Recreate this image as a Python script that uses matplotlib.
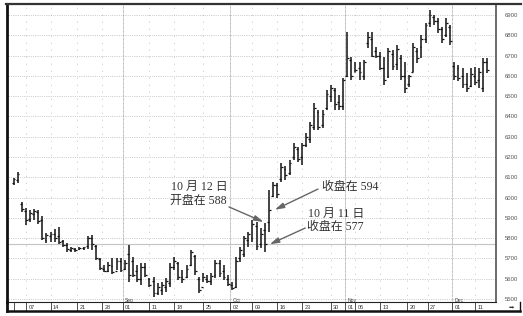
import matplotlib
matplotlib.use("Agg")
import matplotlib.pyplot as plt
from matplotlib.lines import Line2D

W, H = 523, 316

# daily OHLC bars (early Aug .. mid Dec)
highs = [6097, 6126, 5978, 5949, 5939, 5944, 5939, 5910, 5826, 5831,
         5845, 5855, 5791, 5777, 5757, 5752, 5757, 5757, 5811, 5816,
         5767, 5702, 5668, 5683, 5702, 5702, 5702, 5692, 5767, 5707,
         5668, 5678, 5678, 5604, 5609, 5579, 5584, 5604, 5678, 5707,
         5683, 5643, 5668, 5742, 5717, 5609, 5628, 5618, 5628, 5692,
         5692, 5668, 5618, 5584, 5707, 5757, 5811, 5831, 5890, 5880,
         5850, 5875, 6037, 6077, 6072, 6170, 6156, 6185, 6269, 6249,
         6269, 6318, 6373, 6466, 6432, 6432, 6530, 6555, 6540, 6506,
         6589, 6816, 6693, 6668, 6668, 6678, 6816, 6816, 6742, 6718,
         6693, 6737, 6727, 6752, 6703, 6668, 6604, 6762, 6737, 6801,
         6861, 6925, 6900, 6885, 6841, 6885, 6851, 6668, 6654, 6639,
         6614, 6639, 6644, 6639, 6688, 6688]
lows = [6062, 6072, 5929, 5865, 5880, 5890, 5870, 5791, 5777, 5781,
        5781, 5772, 5757, 5732, 5732, 5732, 5742, 5742, 5747, 5742,
        5692, 5643, 5633, 5633, 5623, 5643, 5633, 5643, 5584, 5609,
        5584, 5569, 5609, 5559, 5510, 5520, 5520, 5535, 5559, 5643,
        5594, 5579, 5604, 5663, 5618, 5530, 5584, 5579, 5569, 5604,
        5609, 5594, 5564, 5545, 5554, 5683, 5707, 5757, 5781, 5742,
        5752, 5732, 5830, 6003, 5998, 6077, 6087, 6111, 6185, 6175,
        6161, 6249, 6269, 6333, 6333, 6343, 6432, 6471, 6432, 6432,
        6432, 6594, 6580, 6619, 6580, 6580, 6737, 6693, 6688, 6629,
        6555, 6589, 6629, 6629, 6580, 6516, 6545, 6619, 6663, 6688,
        6762, 6841, 6851, 6811, 6762, 6792, 6752, 6580, 6575, 6540,
        6520, 6545, 6555, 6540, 6520, 6614]
opens = [6070, 6085, 5970, 5935, 5895, 5920, 5930, 5890, 5790, 5810,
         5820, 5810, 5785, 5765, 5740, 5745, 5745, 5750, 5760, 5800,
         5760, 5695, 5650, 5640, 5665, 5640, 5690, 5650, 5720, 5690,
         5640, 5600, 5660, 5600, 5590, 5530, 5545, 5560, 5580, 5660,
         5680, 5610, 5610, 5670, 5710, 5600, 5560, 5600, 5590, 5620,
         5680, 5640, 5600, 5570, 5560, 5700, 5720, 5790, 5800, 5860,
         5770, 5840, 5880, 6010, 6060, 6090, 6140, 6120, 6200, 6240,
         6200, 6260, 6290, 6350, 6420, 6360, 6440, 6500, 6530, 6470,
         6450, 6600, 6680, 6620, 6640, 6600, 6760, 6780, 6720, 6700,
         6640, 6600, 6710, 6660, 6690, 6600, 6560, 6620, 6720, 6740,
         6780, 6860, 6890, 6870, 6830, 6800, 6840, 6650, 6640, 6600,
         6560, 6550, 6600, 6580, 6540, 6670]
closes = [6090, 6115, 5945, 5890, 5925, 5935, 5885, 5800, 5815, 5820,
          5800, 5780, 5765, 5745, 5750, 5740, 5752, 5755, 5800, 5770,
          5700, 5655, 5640, 5670, 5635, 5690, 5645, 5680, 5620, 5620,
          5600, 5660, 5620, 5570, 5530, 5560, 5570, 5590, 5660, 5690,
          5610, 5600, 5650, 5730, 5640, 5545, 5610, 5590, 5615, 5680,
          5630, 5610, 5575, 5555, 5690, 5740, 5800, 5820, 5870, 5760,
          5820, 5770, 5940, 6060, 6020, 6150, 6110, 6170, 6250, 6190,
          6260, 6300, 6360, 6440, 6350, 6410, 6510, 6540, 6460, 6450,
          6580, 6690, 6600, 6630, 6620, 6670, 6790, 6700, 6700, 6640,
          6580, 6720, 6650, 6730, 6600, 6540, 6600, 6740, 6690, 6780,
          6850, 6900, 6870, 6830, 6780, 6860, 6770, 6600, 6590, 6560,
          6540, 6610, 6570, 6620, 6670, 6630]

# date strip: tick positions (bar index) and labels
date_ticks = [0, 3, 9, 15.5, 21.5, 26.5, 33, 39, 46, 52.5, 58, 64, 70, 77,
              80.5, 83, 89, 95.5, 100.5, 106.5, 112]
date_labels = ["", "07", "14", "21", "28", "01", "11", "18", "25", "02", "09",
               "16", "23", "30", "01", "06", "13", "20", "27", "01", "11"]
month_ticks = [26.5, 52.5, 80.5, 106.5]
month_names = ["Sep", "Oct", "Nov", "Dec"]
price_ticks = [5500, 5600, 5700, 5800, 5900, 6000, 6100, 6200, 6300, 6400,
               6500, 6600, 6700, 6800, 6900]

OCT11, OCT12 = 61, 62

plt.rcParams["font.family"] = ["Liberation Sans", "DejaVu Sans"]
cjk = ["Liberation Serif", "Noto Sans CJK SC"]

x0px, step = 13.5, 4.12  # pixel of bar 0, pixels per bar
fig = plt.figure(figsize=(W / 100, H / 100), dpi=100)
ax = fig.add_axes([7 / W, 1 - 301.5 / H, 489 / W, 297.5 / H])
ax.set_xlim((7 - x0px) / step, (496 - x0px) / step)
ax.set_ylim(5488, 6954)

# grid
for p in price_ticks:
    ax.axhline(p, color="#9a9a9a", lw=0.6, ls=(0, (0.6, 1.6)), zorder=0)
for t in date_ticks[1:]:
    if t in month_ticks:
        ax.axvline(t, color="#8a8a8a", lw=0.6, ls=(0, (0.8, 0.8)), zorder=0)
    else:
        ax.axvline(t, color="#a8a8a8", lw=0.7, ls=(0, (0.7, 6.5)), zorder=0)
ax.axhline(closes[OCT11], color="#c4c4c4", lw=0.8, zorder=1)

# bars
x = list(range(len(highs)))
ax.vlines(x, lows, highs, color="#111111", lw=1.1, zorder=3)
ax.hlines(opens, [i - 0.45 for i in x], x, color="#111111", lw=0.9, zorder=3)
ax.hlines(closes, x, [i + 0.45 for i in x], color="#111111", lw=0.9, zorder=3)

# right price labels
ax.yaxis.tick_right()
ax.set_yticks(price_ticks)
ax.set_yticklabels([str(p) for p in price_ticks])
ax.tick_params(axis="y", length=0, pad=6, labelsize=4.3, labelcolor="#555555")
ax.set_xticks([])
ax.spines["top"].set_visible(False)
ax.spines["left"].set_linewidth(2.0)
ax.spines["left"].set_color("#111111")
ax.spines["right"].set_linewidth(1.1)
ax.spines["right"].set_color("#444444")
ax.spines["bottom"].set_linewidth(0.8)
ax.spines["bottom"].set_color("#222222")

# annotations
tc = "#333333"
ax.text(38.2, 6052, "10 月 12 日", family=cjk, fontsize=8.6, color=tc, va="center")
ax.text(38.0, 5983, "开盘在 588", family=cjk, fontsize=8.6, color=tc, va="center")
ax.text(74.9, 6052, "收盘在 594", family=cjk, fontsize=8.6, color=tc, va="center")
ax.text(71.5, 5919, "10 月 11 日", family=cjk, fontsize=8.6, color=tc, va="center")
ax.text(71.2, 5855, "收盘在 577", family=cjk, fontsize=8.6, color=tc, va="center")
arrow = dict(arrowstyle="-|>,head_length=0.55,head_width=0.16", color="#666666",
             lw=1.0, shrinkA=0, shrinkB=0)
ax.annotate("", xy=(OCT12 - 1.3, opens[OCT12]), xytext=(52.3, 5954), arrowprops=arrow)
ax.annotate("", xy=(OCT12 + 1.4, closes[OCT12]), xytext=(73.9, 6042), arrowprops=arrow)
ax.annotate("", xy=(OCT11 + 1.2, closes[OCT11]), xytext=(70.8, 5850), arrowprops=arrow)

# date strip
sx = fig.add_axes([7 / W, 1 - 311 / H, 513 / W, 9.5 / H])
sx.set_xlim((7 - x0px) / step, (520 - x0px) / step)
sx.set_ylim(0, 1)
sx.set_xticks([])
sx.set_yticks([])
sx.patch.set_alpha(0)
sx.spines["top"].set_visible(False)
sx.spines["left"].set_linewidth(2.0)
sx.spines["bottom"].set_linewidth(1.8)
sx.spines["right"].set_linewidth(1.0)
for s in ["left", "bottom", "right"]:
    sx.spines[s].set_color("#111111")
sx.vlines(date_ticks, 0, 1, color="#333333", lw=0.6)
for t, lab in zip(date_ticks, date_labels):
    sx.text(t + 0.6, 0.42, lab, fontsize=4, color="#333333", va="center", ha="left")
for t, name in zip(month_ticks, month_names):
    sx.text(t + 0.6, 1.15, name, fontsize=3.6, color="#444444", va="center",
            ha="left", clip_on=False)
sx.text((511 - x0px) / step, 0.45, "➡", family="DejaVu Sans", fontsize=4.5,
        color="#333333", ha="center", va="center")

# outer top border across price column
fig.add_artist(Line2D([6 / W, 521 / W], [1 - 3.5 / H, 1 - 3.5 / H], color="#333333", lw=1.6))

fig.savefig("out.png", dpi=100)
